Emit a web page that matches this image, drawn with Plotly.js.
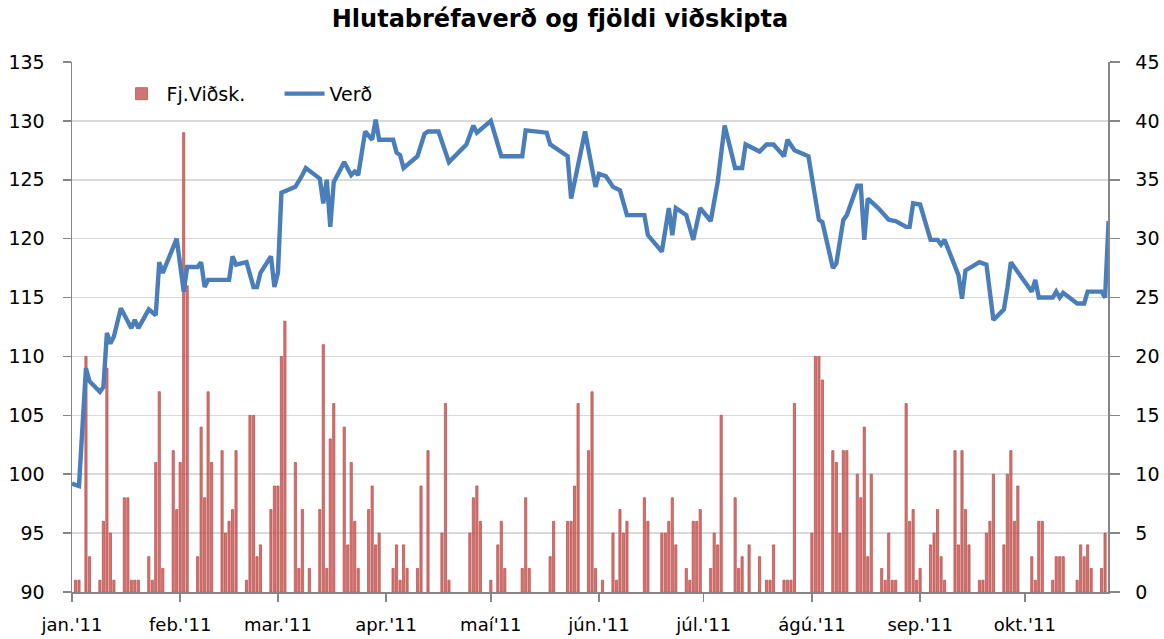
<!DOCTYPE html>
<html>
<head>
<meta charset="utf-8">
<script src="https://cdn.plot.ly/plotly-3.0.1.min.js"></script>
<style>html,body{margin:0;padding:0;background:#fff;}#chart{width:1164px;height:639px;}</style>
</head>
<body>
<div id="chart"></div>
<script>
// Fjöldi viðskipta (number of trades) - right axis
const tradeDates = [
 "2011-01-02","2011-01-03","2011-01-05","2011-01-06","2011-01-09","2011-01-10","2011-01-11","2011-01-12","2011-01-13",
 "2011-01-16","2011-01-17","2011-01-18","2011-01-19","2011-01-20","2011-01-23","2011-01-24","2011-01-25","2011-01-26","2011-01-27",
 "2011-01-30","2011-01-31","2011-02-01","2011-02-02","2011-02-03","2011-02-06","2011-02-07","2011-02-08","2011-02-09","2011-02-10",
 "2011-02-13","2011-02-14","2011-02-15","2011-02-16","2011-02-17","2011-02-20","2011-02-21","2011-02-22","2011-02-23","2011-02-24",
 "2011-02-27","2011-02-28","2011-03-01","2011-03-02","2011-03-03","2011-03-06","2011-03-07","2011-03-08","2011-03-10",
 "2011-03-13","2011-03-14","2011-03-15","2011-03-16","2011-03-17","2011-03-20","2011-03-21","2011-03-22","2011-03-23","2011-03-24",
 "2011-03-27","2011-03-28","2011-03-29","2011-03-30","2011-04-03","2011-04-04","2011-04-05","2011-04-06","2011-04-07",
 "2011-04-10","2011-04-11","2011-04-13","2011-04-17","2011-04-18","2011-04-19","2011-04-25","2011-04-26","2011-04-27","2011-04-28",
 "2011-05-01","2011-05-03","2011-05-04","2011-05-05","2011-05-10","2011-05-11","2011-05-12","2011-05-18","2011-05-19",
 "2011-05-23","2011-05-24","2011-05-25","2011-05-26","2011-05-29","2011-05-30","2011-05-31","2011-06-02",
 "2011-06-05","2011-06-06","2011-06-07","2011-06-08","2011-06-09","2011-06-14","2011-06-15",
 "2011-06-19","2011-06-20","2011-06-21","2011-06-22","2011-06-23","2011-06-26","2011-06-27","2011-06-28","2011-06-29","2011-06-30",
 "2011-07-03","2011-07-04","2011-07-05","2011-07-06","2011-07-10","2011-07-11","2011-07-12","2011-07-14",
 "2011-07-17","2011-07-19","2011-07-20","2011-07-21","2011-07-24","2011-07-25","2011-07-26","2011-07-27",
 "2011-08-01","2011-08-02","2011-08-03","2011-08-04","2011-08-07","2011-08-08","2011-08-09","2011-08-10","2011-08-11",
 "2011-08-14","2011-08-15","2011-08-16","2011-08-17","2011-08-18","2011-08-21","2011-08-22","2011-08-23","2011-08-24","2011-08-25",
 "2011-08-28","2011-08-29","2011-08-30","2011-08-31","2011-09-01","2011-09-04","2011-09-05","2011-09-06","2011-09-07","2011-09-08",
 "2011-09-11","2011-09-12","2011-09-13","2011-09-14","2011-09-15","2011-09-18","2011-09-19","2011-09-20","2011-09-21","2011-09-22",
 "2011-09-25","2011-09-26","2011-09-27","2011-09-28","2011-09-29","2011-10-03","2011-10-04","2011-10-05","2011-10-06",
 "2011-10-09","2011-10-10","2011-10-11","2011-10-12","2011-10-16","2011-10-17","2011-10-18","2011-10-19","2011-10-20",
 "2011-10-23","2011-10-24"
];
const tradeCounts = [
 1,1,20,3,1,6,19,5,1,
 8,8,1,1,1,3,1,11,17,2,
 12,7,11,39,26,3,14,8,17,11,
 12,5,6,7,12,1,15,15,3,4,
 7,9,9,20,23,11,2,7,2,
 7,21,2,13,16,14,4,11,6,2,
 7,9,4,5,2,4,1,4,2,
 2,9,12,5,16,1,5,8,9,6,
 1,4,6,2,2,8,2,3,6,
 6,6,9,16,12,17,2,1,
 5,1,7,5,6,8,6,
 5,5,6,8,4,2,1,6,6,7,
 2,5,4,15,8,2,3,4,
 3,1,1,4,1,1,1,16,
 5,20,20,18,12,11,5,12,12,
 10,8,14,3,10,2,1,5,1,1,
 16,6,7,1,2,4,5,7,3,1,
 12,4,12,7,4,1,1,5,6,10,
 4,10,12,6,9,3,1,6,6,
 1,3,3,3,1,4,3,4,2,
 2,5
];

// Verð (share price) - left axis
const priceDates = [
 "2011-01-01","2011-01-03","2011-01-05","2011-01-06","2011-01-09","2011-01-10","2011-01-11","2011-01-12","2011-01-13","2011-01-15",
 "2011-01-18","2011-01-19","2011-01-20","2011-01-23","2011-01-25","2011-01-26","2011-01-27","2011-01-29","2011-01-31",
 "2011-02-02","2011-02-03","2011-02-06","2011-02-07","2011-02-08","2011-02-09","2011-02-15","2011-02-16","2011-02-17","2011-02-20",
 "2011-02-22","2011-02-23","2011-02-24","2011-02-27","2011-02-28","2011-03-01","2011-03-02","2011-03-06","2011-03-08","2011-03-09",
 "2011-03-13","2011-03-14","2011-03-15","2011-03-16","2011-03-17","2011-03-20","2011-03-22","2011-03-23","2011-03-24","2011-03-26",
 "2011-03-28","2011-03-29","2011-03-30","2011-04-03","2011-04-04","2011-04-05","2011-04-06","2011-04-10","2011-04-12","2011-04-13",
 "2011-04-16","2011-04-19","2011-04-24","2011-04-26","2011-04-27","2011-05-01","2011-05-04","2011-05-10","2011-05-11","2011-05-17",
 "2011-05-18","2011-05-23","2011-05-24","2011-05-28","2011-05-31","2011-06-01","2011-06-03","2011-06-05","2011-06-07","2011-06-09",
 "2011-06-14","2011-06-15","2011-06-19","2011-06-21","2011-06-22","2011-06-23","2011-06-26","2011-06-28","2011-06-30",
 "2011-07-03","2011-07-05","2011-07-07","2011-07-10","2011-07-12","2011-07-13","2011-07-17","2011-07-19","2011-07-21",
 "2011-07-24","2011-07-25","2011-07-27","2011-07-31","2011-08-03","2011-08-04","2011-08-07","2011-08-08","2011-08-10","2011-08-11",
 "2011-08-14","2011-08-15","2011-08-16","2011-08-17","2011-08-20","2011-08-23","2011-08-25","2011-08-28","2011-08-29","2011-08-30",
 "2011-09-01","2011-09-04","2011-09-06","2011-09-07","2011-09-08","2011-09-12","2011-09-13","2011-09-14","2011-09-18","2011-09-20",
 "2011-09-22","2011-09-25","2011-09-26","2011-09-27","2011-10-03","2011-10-04","2011-10-05","2011-10-09","2011-10-10","2011-10-11",
 "2011-10-12","2011-10-16","2011-10-18","2011-10-19","2011-10-23","2011-10-24","2011-10-25"
];
const priceValues = [
 99.2,99.0,109.0,107.9,107.0,107.4,112.0,111.1,111.7,114.1,
 112.4,113.1,112.4,114.0,113.5,118.0,117.1,118.5,120.0,
 115.5,117.6,117.6,118.0,115.9,116.5,116.5,118.5,117.8,118.0,
 115.9,115.9,117.1,118.5,115.9,117.1,123.9,124.4,125.4,126.0,
 125.1,123.0,125.0,121.0,124.8,126.5,125.4,125.7,125.4,129.1,
 128.4,130.1,128.4,128.4,127.3,127.1,126.0,127.0,128.9,129.1,
 129.1,126.5,128.0,129.6,129.0,130.0,127.0,127.0,129.2,129.0,
 128.0,127.0,123.4,129.1,124.4,125.5,125.3,124.4,124.1,122.0,
 122.0,120.3,118.9,122.6,120.3,122.6,122.0,119.9,122.6,
 121.5,124.8,129.6,126.0,126.0,128.0,127.4,128.0,128.0,
 127.0,128.4,127.5,127.0,121.6,121.4,117.5,117.9,121.6,122.0,
 124.5,124.5,119.9,123.4,122.6,121.6,121.5,121.0,121.0,123.0,
 122.9,119.9,119.9,119.5,119.9,116.9,114.9,117.3,118.0,117.8,
 113.1,114.0,115.8,118.0,115.5,116.5,115.0,115.0,115.5,115.0,
 115.4,114.5,114.5,115.5,115.5,115.0,121.5
];

const monthTicks = ["2011-01-01","2011-02-01","2011-03-01","2011-04-01","2011-05-01","2011-06-01","2011-07-01","2011-08-01","2011-09-01","2011-10-01"];
const monthLabels = ["jan.'11","feb.'11","mar.'11","apr.'11","maí'11","jún.'11","júl.'11","ágú.'11","sep.'11","okt.'11"];

const FONT = "DejaVu Sans, Verdana, sans-serif";
const AXIS = "#868686";
const GRID = "#D9D9D9";

const traces = [
  {
    type: "bar", name: "Fj.Viðsk.", x: tradeDates, y: tradeCounts,
    xaxis: "x", yaxis: "y",
    width: 0.62 * 86400000,
    marker: {color: "rgba(192,80,77,0.78)", line: {color: "#C0504D", width: 0.8}},
    hoverinfo: "x+y"
  },
  {
    type: "scatter", mode: "lines", name: "Verð", x: priceDates, y: priceValues,
    xaxis: "x", yaxis: "y2",
    line: {color: "#4A7EBB", width: 4.4}
  }
];

const layout = {
  width: 1164, height: 639,
  margin: {l: 72, r: 56, t: 62, b: 47, pad: 0},
  paper_bgcolor: "#ffffff", plot_bgcolor: "#ffffff",
  font: {family: FONT, size: 18, color: "#000000"},
  title: {
    text: "<b>Hlutabréfaverð og fjöldi viðskipta</b>",
    font: {family: FONT, size: 24, color: "#000000"},
    x: 560 / 1164, xref: "container", xanchor: "center",
    y: 1 - 19 / 639, yref: "container", yanchor: "middle"
  },
  bargap: 0,
  showlegend: true,
  legend: {
    orientation: "h", x: 0.043, y: 0.94, xanchor: "left", yanchor: "middle",
    bgcolor: "rgba(0,0,0,0)", font: {family: FONT, size: 19, color: "#000"},
    traceorder: "normal", itemwidth: 40,
    entrywidth: 108, entrywidthmode: "pixels"
  },
  xaxis: {
    type: "date",
    range: ["2011-01-01", "2011-10-24 20:00"],
    tickmode: "array", tickvals: monthTicks, ticktext: monthLabels,
    ticks: "outside", ticklen: 8, tickwidth: 1.5, tickcolor: AXIS,
    showline: true, linecolor: AXIS, linewidth: 1.5,
    showgrid: false, zeroline: false,
    tickfont: {family: FONT, size: 18, color: "#000"},
    ticklabelstandoff: 8,
    fixedrange: true
  },
  yaxis: {
    side: "right", range: [0, 45], tick0: 0, dtick: 5,
    ticks: "outside", ticklen: 10, tickwidth: 1.5, tickcolor: AXIS,
    showline: true, linecolor: AXIS, linewidth: 1.5,
    showgrid: true, gridcolor: GRID, gridwidth: 1.5, zeroline: false,
    tickfont: {family: FONT, size: 19, color: "#000"},
    ticklabelstandoff: 12,
    fixedrange: true
  },
  yaxis2: {
    overlaying: "y", side: "left", range: [90, 135], tick0: 90, dtick: 5,
    ticks: "outside", ticklen: 8, tickwidth: 1.5, tickcolor: AXIS,
    showline: true, linecolor: AXIS, linewidth: 1.5,
    showgrid: false, zeroline: false,
    tickfont: {family: FONT, size: 19, color: "#000"},
    ticklabelstandoff: 14,
    fixedrange: true
  }
};

Plotly.newPlot("chart", traces, layout, {displayModeBar: false, staticPlot: true});
</script>
</body>
</html>
